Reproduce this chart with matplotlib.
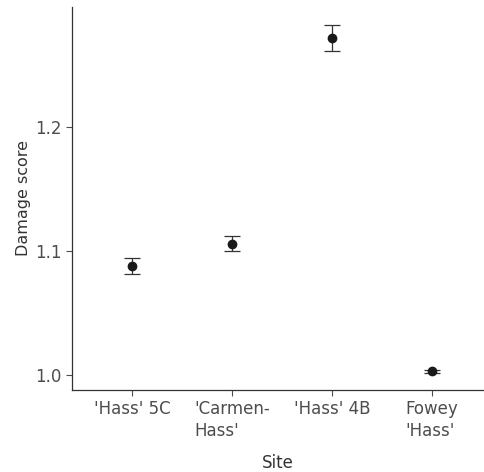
import numpy as np
import matplotlib.pyplot as plt

# Данные
sites = ["'Hass' 5C", "'Carmen-\nHass'", "'Hass' 4B", "Fowey\n'Hass'"]
damage = [1.088, 1.106, 1.272, 1.003]
err = [0.0067, 0.0062, 0.0101, 0.001]

x = np.arange(1, len(sites) + 1)

fig = plt.figure(figsize=(4.85, 4.72), dpi=100)
ax = fig.add_axes([72 / 485, 82 / 472, 412 / 485, 383 / 472])

ax.errorbar(x, damage, yerr=err, fmt='o', color='#1a1a1a', ecolor='#333333',
            markersize=6, capsize=5.5, elinewidth=0.9, capthick=0.9)

ax.set_xlim(0.4, 4.52)
ax.set_ylim(0.988, 1.297)
ax.set_xticks(x)
ax.set_xticklabels(sites)
ax.set_yticks([1.0, 1.1, 1.2])
ax.set_yticklabels(['1.0', '1.1', '1.2'])

for s in ['top', 'right']:
    ax.spines[s].set_visible(False)
for s in ['left', 'bottom']:
    ax.spines[s].set_color('#333333')
    ax.spines[s].set_linewidth(0.9)

ax.tick_params(colors='#4d4d4d', labelsize=12, length=4, width=0.8)
for lbl in ax.get_xticklabels():
    lbl.set_multialignment('left')
    lbl.set_linespacing(1.25)

ax.set_xlabel('Site', fontsize=12, color='#333333', labelpad=10)
ax.set_ylabel('Damage score', fontsize=11.5, color='#333333', labelpad=3)

plt.savefig('out.png', dpi=100)
